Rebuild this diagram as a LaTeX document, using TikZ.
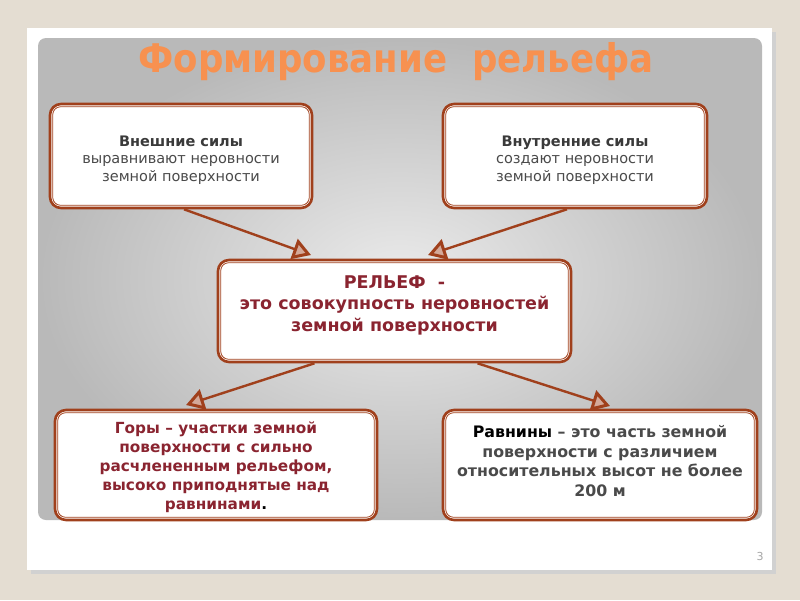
\documentclass[tikz,border=0pt]{standalone}
\usepackage{fontspec}
\setmainfont{DejaVu Sans}
\newfontfamily\titlefont{DejaVu Sans Condensed}
\usetikzlibrary{arrows.meta,shadings}
\definecolor{bgbeige}{HTML}{E4DDD2}
\definecolor{brn}{HTML}{A0401C}
\definecolor{ttl}{HTML}{F79150}
\definecolor{dred}{HTML}{8A2430}
\definecolor{dgray}{HTML}{3A3A3A}
\definecolor{mgray}{HTML}{4A4A4A}
\tikzset{
  box/.style={draw=brn, line width=2.6pt, fill=white, rounded corners=11pt, inner sep=0pt},
  inbox/.style={draw=brn, line width=0.8pt, rounded corners=8pt},
  txt/.style={align=center, inner sep=0pt},
  conn/.style={draw=brn, line width=2.4pt, -{Triangle[length=18pt,width=21pt,line width=3pt,fill=brn!45]}},
}
\begin{document}
\begin{tikzpicture}[x=1pt,y=-1pt]
\useasboundingbox (0,0) rectangle (800,600);
\fill[bgbeige] (0,0) rectangle (800,600);
% slide shadow and slide
\fill[black!18] (31,32) rectangle (776,574);
\fill[white] (27,28) rectangle (772,570);
% gray panel
\shade[inner color=gray!16, outer color=gray!55, rounded corners=8pt] (38,38) rectangle (762,520);
% title
\node[font=\titlefont\bfseries\fontsize{39.5}{44}\selectfont, text=ttl] (title) at (396,62) {Формирование\ \ рельефа};
% boxes
\node[box, minimum width=262pt, minimum height=104pt] (tl) at (181,156) {};
\node[box, minimum width=264pt, minimum height=104pt] (tr) at (575,156) {};
\node[box, minimum width=353pt, minimum height=102pt] (c) at (394.5,311) {};
\node[box, minimum width=322pt, minimum height=110pt] (bl) at (216,465) {};
\node[box, minimum width=314pt, minimum height=110pt] (br) at (600,465) {};
% inner thin borders
\foreach \n in {tl,tr,c,bl,br}{
  \draw[inbox] ([shift={(4pt,-4pt)}]\n.north west) rectangle ([shift={(-4pt,4pt)}]\n.south east);
}
% texts
\node[txt, font=\fontsize{14.5}{17.5}\selectfont, text=mgray] (tlt) at (181,160)
  {\textbf{\textcolor{dgray}{Внешние силы}}\\ выравнивают неровности\\ земной поверхности};
\node[txt, font=\fontsize{14.5}{17.5}\selectfont, text=mgray] (trt) at (575,160)
  {\textbf{\textcolor{dgray}{Внутренние силы}}\\ создают неровности\\ земной поверхности};
\node[txt, font=\bfseries\fontsize{17.5}{21.5}\selectfont, text=dred] (ct) at (394.5,305)
  {РЕЛЬЕФ\ \ -\\ это совокупность неровностей\\ земной поверхности};
\node[txt, font=\bfseries\fontsize{15.3}{19}\selectfont, text=dred] (blt) at (216,467)
  {Горы – участки земной\\ поверхности с сильно\\ расчлененным рельефом,\\ высоко приподнятые над\\ равнинами\textcolor{black}{.}};
\node[txt, font=\bfseries\fontsize{15.8}{19.5}\selectfont, text=mgray] (brt) at (600,461)
  {\textcolor{black}{Равнины} – это часть земной\\ поверхности с различием\\ относительных высот не более\\ 200 м};
% arrow end points
\coordinate (e1) at (311,255);
\coordinate (e2) at (428,255);
\coordinate (e3) at (186,405);
\coordinate (e4) at (610,406);
\draw[conn] ([xshift=3pt]tl.south) -- (e1);
\draw[conn] ([xshift=-8pt]tr.south) -- (e2);
\draw[conn] ([xshift=-80pt]c.south) -- (e3);
\draw[conn] ([xshift=83pt]c.south) -- (e4);
% page number
\node[text=gray!70, font=\fontsize{11}{13}\selectfont] (pg) at (760,556) {3};
\end{tikzpicture}
\end{document}
